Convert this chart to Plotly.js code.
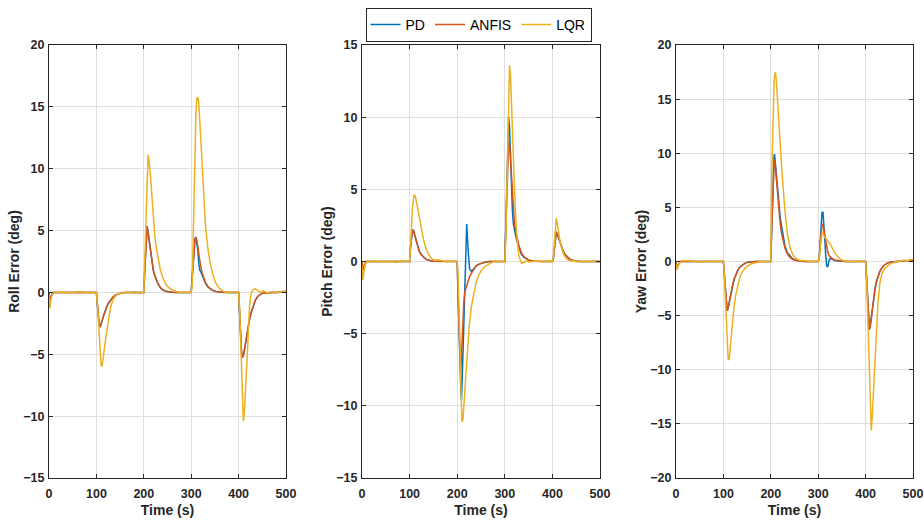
<!DOCTYPE html>
<html>
<head>
<meta charset="utf-8">
<script src="https://cdn.plot.ly/plotly-3.0.1.min.js"></script>
<style>html,body{margin:0;padding:0;background:#fff;}#chart{width:924px;height:521px;}</style>
</head>
<body>
<div id="chart"></div>
<script>
// Shared time grid (s)
const time = [0, 2, 4, 7, 10, 15, 25, 40, 55, 70, 85, 99,
  100, 102, 104, 106, 108, 110, 112, 114, 116, 118, 120, 123, 126, 130, 135, 140, 146, 152, 160, 170, 180, 190, 199,
  200, 202, 204, 206, 207, 208, 209, 210, 212, 214, 216, 218, 220, 223, 226, 230, 235, 240, 246, 252, 260, 270, 280, 290, 299,
  300, 302, 304, 306, 308, 310, 312, 314, 316, 318, 320, 323, 326, 330, 335, 340, 346, 352, 360, 370, 380, 390, 399,
  400, 402, 404, 406, 408, 410, 412, 414, 416, 418, 420, 423, 426, 430, 435, 440, 446, 452, 460, 470, 480, 490, 500];

const seriesNames = ['PD', 'ANFIS', 'LQR'];

// ---- Roll error (deg)
const rollPD = [0, -0.8, -0.4, -0.1, 0, 0, 0, 0, 0, 0, 0, 0,
  0, -1.0, -2.0, -2.6, -2.8, -2.6, -2.3, -2.0, -1.75, -1.5, -1.3, -1.05, -0.85, -0.6, -0.38, -0.22, -0.1, -0.04, 0, 0, 0, 0, 0,
  0, 1.8, 3.6, 5.0, 5.35, 5.15, 4.85, 4.45, 3.8, 3.2, 2.6, 2.15, 1.8, 1.35, 1.0, 0.68, 0.38, 0.2, 0.09, 0.03, 0.01, 0, 0, 0, 0,
  0, 1.2, 2.4, 3.5, 4.35, 4.5, 4.1, 3.4, 2.4, 1.8, 1.7, 1.4, 1.1, 0.75, 0.45, 0.28, 0.15, 0.07, 0.02, 0, 0, 0, 0,
  0, -1.6, -3.3, -4.7, -5.25, -5.1, -4.7, -4.2, -3.8, -3.3, -2.8, -2.2, -1.7, -1.15, -0.65, -0.35, -0.15, -0.06, -0.02, 0, 0, 0, 0.05];
const rollANFIS = [0, -0.7, -0.3, -0.1, 0, 0, 0, 0, 0, 0, 0, 0,
  0, -1.0, -2.0, -2.6, -2.8, -2.6, -2.3, -2.0, -1.75, -1.5, -1.3, -1.05, -0.85, -0.6, -0.38, -0.22, -0.1, -0.04, 0, 0, 0, 0, 0,
  0, 1.8, 3.6, 5.0, 5.3, 5.1, 4.8, 4.4, 3.8, 3.2, 2.65, 2.2, 1.85, 1.4, 1.05, 0.7, 0.4, 0.22, 0.1, 0.04, 0.01, 0, 0, 0, 0,
  0, 1.2, 2.4, 3.5, 4.3, 4.45, 4.2, 3.7, 3.1, 2.55, 2.1, 1.6, 1.2, 0.8, 0.5, 0.3, 0.17, 0.08, 0.03, 0, 0, 0, 0,
  0, -1.6, -3.3, -4.7, -5.25, -5.1, -4.7, -4.2, -3.8, -3.3, -2.8, -2.2, -1.7, -1.15, -0.65, -0.35, -0.15, -0.06, -0.02, 0, 0, 0, 0.05];
const rollLQR = [-0.2, -1.3, -0.6, -0.1, 0.05, -0.03, 0.04, -0.05, 0.03, 0.05, -0.04, 0.02,
  0, -0.8, -2.2, -3.6, -5.0, -5.9, -5.95, -5.5, -4.8, -4.2, -3.6, -2.9, -2.1, -1.2, -0.6, -0.3, -0.13, -0.06, 0.03, -0.03, 0.05, -0.04, 0.03,
  0, 2.5, 5.0, 8.5, 10.0, 10.9, 11.1, 11.0, 10.4, 9.5, 8.4, 7.2, 6.1, 4.7, 3.7, 2.7, 1.8, 1.2, 0.7, 0.4, 0.2, 0.05, -0.03, 0.04, -0.02,
  0, 0.5, 4.0, 9.2, 12.2, 14.5, 15.7, 15.75, 15.3, 14.2, 12.6, 10.4, 8.2, 5.5, 3.6, 2.4, 1.4, 0.75, 0.3, 0.05, -0.04, 0.05, -0.03,
  0, -1.2, -3.5, -5.8, -8.5, -10.4, -9.8, -8.6, -7.0, -5.3, -3.6, -1.2, -0.1, 0.2, 0.3, 0.15, 0.0, 0.12, -0.02, 0.05, -0.02, 0.08, 0.12];

// ---- Pitch error (deg)
const pitchPD = [0, -0.9, -0.4, -0.1, 0, 0, 0, 0, 0, 0, 0, 0,
  0, 1.0, 1.9, 2.2, 2.15, 1.9, 1.6, 1.35, 1.1, 0.9, 0.75, 0.55, 0.42, 0.28, 0.15, 0.08, 0.03, 0.01, 0, 0, 0, 0, 0,
  0, -2.6, -5.2, -7.4, -8.4, -9.2, -9.6, -8.8, -6.5, -4.2, -1.9, 0.4, 2.6, 0.8, -0.5, -0.7, -0.5, -0.3, -0.18, -0.1, -0.04, 0, 0, 0, 0,
  0, 2.5, 5.5, 8.5, 10.0, 9.3, 7.0, 5.0, 3.5, 2.6, 2.2, 1.75, 1.35, 0.9, 0.5, 0.3, 0.15, 0.06, 0.02, 0, 0, 0, 0,
  0, 0.2, 1.0, 1.8, 2.05, 1.9, 1.7, 1.45, 1.25, 1.05, 0.9, 0.7, 0.5, 0.33, 0.2, 0.1, 0.04, 0.01, 0, 0, 0, 0, 0];
const pitchANFIS = [0, -0.8, -0.35, -0.1, 0, 0, 0, 0, 0, 0, 0, 0,
  0, 1.0, 1.9, 2.2, 2.15, 1.9, 1.6, 1.35, 1.1, 0.9, 0.75, 0.55, 0.42, 0.28, 0.15, 0.08, 0.03, 0.01, 0, 0, 0, 0, 0,
  0, -2.5, -5.0, -7.0, -7.7, -7.3, -6.3, -5.5, -4.0, -2.8, -2.1, -1.9, -1.7, -1.3, -1.05, -0.8, -0.5, -0.3, -0.18, -0.1, -0.04, 0, 0, 0, 0,
  0, 2.0, 4.5, 7.0, 8.3, 8.1, 7.0, 5.7, 4.5, 3.5, 2.8, 2.1, 1.6, 1.05, 0.6, 0.35, 0.18, 0.08, 0.03, 0, 0, 0, 0,
  0, 0.2, 1.0, 1.8, 2.05, 1.9, 1.7, 1.45, 1.25, 1.05, 0.9, 0.7, 0.5, 0.33, 0.2, 0.1, 0.04, 0.01, 0, 0, 0, 0, 0];
const pitchLQR = [-0.3, -1.3, -0.7, -0.2, 0.03, -0.04, 0.05, -0.03, 0.04, -0.05, 0.03, 0.02,
  0, 1.2, 2.6, 3.7, 4.3, 4.6, 4.55, 4.2, 3.8, 3.4, 3.0, 2.5, 2.0, 1.4, 0.85, 0.5, 0.22, 0.1, 0.12, 0.03, -0.03, 0.04, 0.0,
  0, -1.2, -3.1, -5.8, -7.7, -9.3, -10.6, -11.1, -11.0, -10.2, -9.0, -7.9, -6.8, -5.4, -4.2, -3.1, -2.1, -1.4, -0.9, -0.55, -0.3, -0.12, 0.05, -0.03, 0.02,
  0, 1.5, 5.0, 8.0, 11.5, 13.6, 12.9, 10.6, 8.6, 7.0, 5.4, 3.0, 1.4, 0.35, -0.12, -0.05, 0.03, -0.04, 0.02, 0.05, -0.03, 0.04, 0.0,
  0, 0.3, 1.5, 2.6, 3.0, 2.7, 2.2, 1.75, 1.4, 1.1, 0.85, 0.55, 0.35, 0.18, 0.08, 0.03, 0.05, -0.03, 0.02, -0.02, 0.03, 0.01, 0.0];

// ---- Yaw error (deg)
const yawPD = [0, -0.6, -0.3, -0.1, 0, 0, 0, 0, 0, 0, 0, 0,
  0, -1.2, -2.4, -3.8, -4.55, -4.3, -3.8, -3.3, -2.85, -2.45, -2.1, -1.6, -1.25, -0.85, -0.5, -0.3, -0.15, -0.06, -0.02, 0, 0, 0, 0,
  0, 3.2, 6.4, 9.0, 9.8, 9.9, 9.4, 8.8, 7.6, 6.6, 5.8, 5.0, 4.0, 3.2, 2.3, 1.4, 0.8, 0.5, 0.25, 0.12, 0.05, 0, 0, 0, 0,
  0, 0.3, 1.8, 3.5, 4.5, 4.6, 3.6, 2.0, 0.5, -0.4, -0.5, 0.1, 0.3, 0.2, 0.1, 0.05, 0.02, 0, 0, 0, 0, 0, 0,
  0, -1.5, -3.6, -5.4, -6.3, -5.9, -5.1, -4.3, -3.6, -3.0, -2.5, -1.85, -1.35, -0.9, -0.55, -0.32, -0.15, -0.06, -0.02, 0, 0.05, 0.1, 0.15];
const yawANFIS = [0, -0.6, -0.3, -0.1, 0, 0, 0, 0, 0, 0, 0, 0,
  0, -1.2, -2.4, -3.8, -4.55, -4.3, -3.8, -3.3, -2.85, -2.45, -2.1, -1.6, -1.25, -0.85, -0.5, -0.3, -0.15, -0.06, -0.02, 0, 0, 0, 0,
  0, 3.0, 6.0, 8.5, 9.2, 9.4, 9.1, 8.6, 7.5, 6.3, 5.2, 4.2, 3.4, 2.5, 1.8, 1.2, 0.7, 0.4, 0.2, 0.1, 0.04, 0, 0, 0, 0,
  0, 0.3, 1.5, 2.7, 3.4, 3.45, 2.9, 2.2, 1.6, 1.2, 0.9, 0.55, 0.4, 0.25, 0.15, 0.1, 0.05, 0.02, 0, 0, 0, 0, 0,
  0, -1.5, -3.6, -5.4, -6.3, -5.9, -5.1, -4.3, -3.6, -3.0, -2.5, -1.85, -1.35, -0.9, -0.55, -0.32, -0.15, -0.06, -0.02, 0, 0.05, 0.1, 0.15];
const yawLQR = [-0.2, -0.8, -0.4, -0.1, 0.05, 0.1, 0.08, 0.02, -0.04, 0.05, 0.0, 0.04,
  0, -1.3, -3.2, -5.6, -7.9, -9.0, -9.1, -8.4, -7.3, -6.2, -5.0, -4.0, -3.1, -2.2, -1.4, -0.95, -0.6, -0.4, -0.2, -0.1, 0.03, -0.02, 0.04,
  0, 8.0, 12.5, 15.5, 16.6, 17.2, 17.45, 17.4, 16.5, 15.3, 13.8, 12.3, 10.8, 8.6, 6.8, 4.6, 2.6, 1.4, 0.65, 0.3, 0.12, 0.05, 0.02, -0.03, 0.05,
  0, 0.3, 1.3, 2.2, 2.7, 2.6, 2.3, 2.2, 2.15, 2.0, 1.9, 1.75, 1.55, 1.2, 0.8, 0.5, 0.25, 0.1, 0.05, -0.03, 0.04, 0.0, 0.03,
  0, -1.5, -4.5, -8.0, -11.5, -14.5, -15.6, -14.3, -12.7, -10.9, -9.0, -6.1, -3.9, -2.0, -1.05, -0.65, -0.4, -0.22, -0.08, 0.03, 0.12, 0.1, 0.2];

const colors = ['#0072BD', '#D95319', '#EDB120'];
const panels = [
  {series: [rollPD, rollANFIS, rollLQR], title: 'Roll Error (deg)', range: [-15, 20]},
  {series: [pitchPD, pitchANFIS, pitchLQR], title: 'Pitch Error (deg)', range: [-15, 15]},
  {series: [yawPD, yawANFIS, yawLQR], title: 'Yaw Error (deg)', range: [-20, 20]}
];
const xDomains = [[49/924, 286/924], [362/924, 600/924], [676/924, 913/924]];
const yDomain = [43/521, 476/521];

const fontFam = 'Liberation Sans, Arial, Helvetica, sans-serif';
const traces = [];
const layout = {
  width: 924, height: 521,
  margin: {l: 0, r: 0, t: 0, b: 0},
  paper_bgcolor: '#ffffff', plot_bgcolor: '#ffffff',
  font: {family: fontFam, color: '#262626'},
  showlegend: true,
  legend: {
    orientation: 'h', x: 478.5/924, xanchor: 'center', y: 1 - 8/521, yanchor: 'top',
    bordercolor: '#262626', borderwidth: 1, bgcolor: '#ffffff',
    font: {family: fontFam, size: 14, color: '#000000'},
    itemwidth: 30, tracegroupgap: 0
  }
};

panels.forEach((p, i) => {
  const xa = 'x' + (i === 0 ? '' : i + 1);
  const ya = 'y' + (i === 0 ? '' : i + 1);
  p.series.forEach((s, k) => {
    traces.push({
      x: time, y: s, type: 'scatter', mode: 'lines',
      name: seriesNames[k], legendgroup: seriesNames[k], showlegend: i === 0,
      line: {color: colors[k], width: 1.5},
      xaxis: xa, yaxis: ya
    });
  });
  const axBase = {
    showline: true, linecolor: '#262626', linewidth: 1, mirror: 'ticks',
    ticks: 'inside', ticklen: 4, tickcolor: '#262626',
    showgrid: true, gridcolor: '#dfdfdf', gridwidth: 1, zeroline: false,
    tickfont: {family: fontFam, size: 12.5, weight: 'bold', color: '#262626'}
  };
  layout['xaxis' + (i === 0 ? '' : i + 1)] = Object.assign({}, axBase, {
    domain: xDomains[i], range: [0, 500], dtick: 100, tick0: 0, anchor: ya,
    ticklabelstandoff: 4,
    title: {text: 'Time (s)', font: {family: fontFam, size: 14, weight: 'bold', color: '#262626'}, standoff: 5}
  });
  layout['yaxis' + (i === 0 ? '' : i + 1)] = Object.assign({}, axBase, {
    domain: yDomain, range: p.range, dtick: 5, tick0: 0, anchor: xa,
    ticklabelstandoff: 1,
    title: {text: p.title, font: {family: fontFam, size: 14, weight: 'bold', color: '#262626'}, standoff: 0}
  });
});

Plotly.newPlot('chart', traces, layout, {displayModeBar: false, staticPlot: true});
</script>
</body>
</html>
